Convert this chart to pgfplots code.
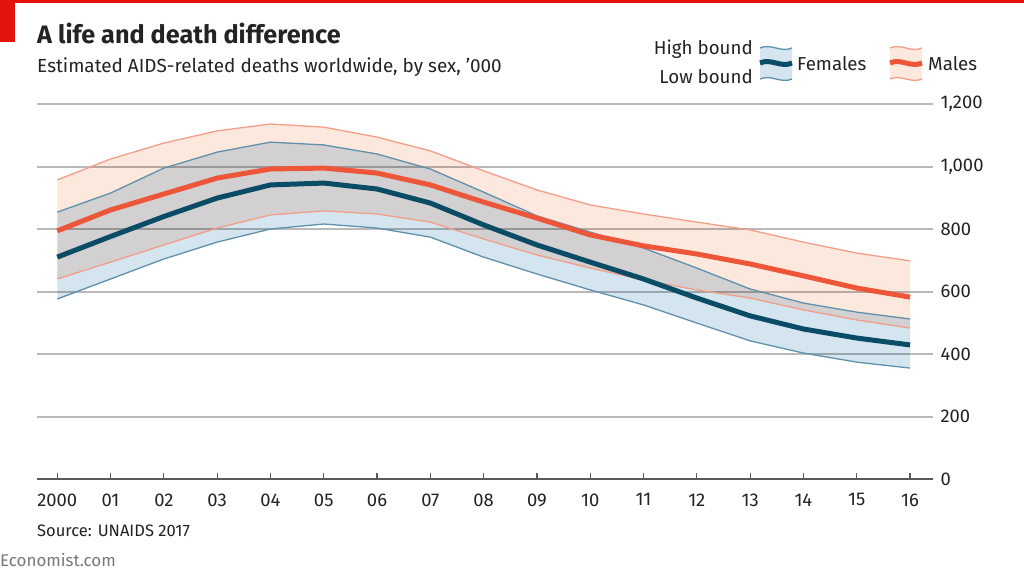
\documentclass[border=0pt]{standalone}
\usepackage{pgfplots}
\pgfplotsset{compat=1.18}
\usepackage{fontspec}
\setmainfont{Fira Sans}

\definecolor{fdark}{RGB}{10,75,102}
\definecolor{fedge}{RGB}{95,145,172}
\definecolor{ffill}{RGB}{212,229,239}
\definecolor{mdark}{RGB}{238,86,58}
\definecolor{medge}{RGB}{242,158,136}
\definecolor{mfill}{RGB}{253,232,222}
\definecolor{gridgray}{RGB}{185,185,185}
\definecolor{txt}{RGB}{35,35,35}
\definecolor{ecored}{RGB}{227,18,11}

\begin{document}
\begin{tikzpicture}
\path[use as bounding box, fill=white] (0,0) rectangle (1024bp,-576bp);
% red top rule and tab
\fill[ecored] (0,0) rectangle (1024bp,-2.5bp);
\fill[ecored] (0,0) rectangle (15bp,-42bp);

\node[anchor=base west, inner sep=0, text=txt, font=\fontsize{25.3}{28}\selectfont\bfseries] at (37bp,-43bp) {A life and death difference};
\node[anchor=base west, inner sep=0, text=txt, font=\fontsize{19}{22}\selectfont] at (37bp,-72bp) {Estimated AIDS-related deaths worldwide, by sex, ’000};

\begin{axis}[
  at={(37bp,-479bp)}, anchor=south west,
  scale only axis, width=896bp, height=375bp,
  xmin=1999.62, xmax=2016.43, ymin=0, ymax=1200,
  separate axis lines,
  axis x line*=bottom, axis y line*=right,
  y axis line style={draw=none},
  x axis line style={draw={rgb,255:red,90;green,90;blue,90}, line width=1.5bp},
  xtick={2000,...,2016},
  xticklabels={2000,01,02,03,04,05,06,07,08,09,10,11,12,13,14,15,16},
  xtick pos=bottom, tick align=inside,
  major tick length=6bp,
  x tick style={draw={rgb,255:red,90;green,90;blue,90}, line width=1.2bp},
  ytick={0,200,...,1200},
  y tick style={draw=none},
  ymajorgrids,
  grid style={gridgray, line width=2bp},
  yticklabel pos=right,
  yticklabel style={anchor=west, xshift=4bp},
  xticklabel style={yshift=-11bp},
  tick label style={text=txt, font=\fontsize{18.5}{21}\selectfont},
  /pgf/number format/assume math mode=true,
  /pgf/number format/1000 sep={,},
  clip=false,
]
% males band: high bound forward, low bound back
\addplot[fill=mfill, draw=none, blend mode=multiply] coordinates {
(2000,957)(2001,1024)(2002,1075)(2003,1114)(2004,1136)(2005,1126)(2006,1094)(2007,1050)(2008,986)
(2009,925)(2010,877)(2011,848)(2012,822)(2013,797)(2014,758)(2015,723)(2016,698)
(2016,483)(2015,509)(2014,541)(2013,579)(2012,605)(2011,637)(2010,675)(2009,717)
(2008,768)(2007,822)(2006,848)(2005,858)(2004,845)(2003,803)(2002,749)(2001,694)(2000,640)} -- cycle;
% females band
\addplot[fill=ffill, draw=none, blend mode=multiply] coordinates {
(2000,854)(2001,915)(2002,995)(2003,1046)(2004,1078)(2005,1069)(2006,1040)(2007,992)(2008,918)
(2009,842)(2010,790)(2011,739)(2012,675)(2013,608)(2014,563)(2015,534)(2016,512)
(2016,355)(2015,374)(2014,403)(2013,442)(2012,499)(2011,557)(2010,605)(2009,656)
(2008,710)(2007,774)(2006,803)(2005,816)(2004,800)(2003,758)(2002,704)(2001,640)(2000,576)} -- cycle;
% males bounds
\addplot[medge, line width=1.3bp] coordinates {
(2000,957)(2001,1024)(2002,1075)(2003,1114)(2004,1136)(2005,1126)(2006,1094)(2007,1050)(2008,986)
(2009,925)(2010,877)(2011,848)(2012,822)(2013,797)(2014,758)(2015,723)(2016,698)};
\addplot[medge, line width=1.3bp] coordinates {
(2000,640)(2001,694)(2002,749)(2003,803)(2004,845)(2005,858)(2006,848)(2007,822)(2008,768)
(2009,717)(2010,675)(2011,637)(2012,605)(2013,579)(2014,541)(2015,509)(2016,483)};
% females bounds
\addplot[fedge, line width=1.3bp] coordinates {
(2000,854)(2001,915)(2002,995)(2003,1046)(2004,1078)(2005,1069)(2006,1040)(2007,992)(2008,918)
(2009,842)(2010,790)(2011,739)(2012,675)(2013,608)(2014,563)(2015,534)(2016,512)};
\addplot[fedge, line width=1.3bp] coordinates {
(2000,576)(2001,640)(2002,704)(2003,758)(2004,800)(2005,816)(2006,803)(2007,774)(2008,710)
(2009,656)(2010,605)(2011,557)(2012,499)(2013,442)(2014,403)(2015,374)(2016,355)};
% central estimates
\addplot[mdark, line width=5bp] coordinates {
(2000,794)(2001,861)(2002,912)(2003,963)(2004,992)(2005,995)(2006,979)(2007,941)(2008,886)
(2009,835)(2010,781)(2011,746)(2012,720)(2013,688)(2014,650)(2015,611)(2016,582)};
\addplot[fdark, line width=5bp] coordinates {
(2000,710)(2001,776)(2002,840)(2003,899)(2004,941)(2005,947)(2006,928)(2007,883)(2008,813)
(2009,749)(2010,694)(2011,640)(2012,579)(2013,522)(2014,480)(2015,451)(2016,429)};
\end{axis}

% legend
\fill[ffill] (760bp,-48bp) .. controls (771bp,-43bp) and (781bp,-53bp) .. (792bp,-48bp)
  -- (792bp,-79bp) .. controls (781bp,-84bp) and (771bp,-74bp) .. (760bp,-79bp) -- cycle;
\draw[fedge, line width=1.3bp] (760bp,-48bp) .. controls (771bp,-43bp) and (781bp,-53bp) .. (792bp,-48bp);
\draw[fedge, line width=1.3bp] (760bp,-79bp) .. controls (771bp,-74bp) and (781bp,-84bp) .. (792bp,-79bp);
\draw[fdark, line width=5bp] (760bp,-63bp) .. controls (771bp,-58bp) and (781bp,-68bp) .. (792bp,-63bp);
\fill[mfill] (890bp,-48bp) .. controls (901bp,-43bp) and (911bp,-53bp) .. (922bp,-48bp)
  -- (922bp,-79bp) .. controls (911bp,-84bp) and (901bp,-74bp) .. (890bp,-79bp) -- cycle;
\draw[medge, line width=1.3bp] (890bp,-48bp) .. controls (901bp,-43bp) and (911bp,-53bp) .. (922bp,-48bp);
\draw[medge, line width=1.3bp] (890bp,-79bp) .. controls (901bp,-74bp) and (911bp,-84bp) .. (922bp,-79bp);
\draw[mdark, line width=5bp] (890bp,-63bp) .. controls (901bp,-58bp) and (911bp,-68bp) .. (922bp,-63bp);
\begin{scope}[every node/.style={inner sep=0, text=txt, font=\fontsize{18.8}{21}\selectfont}]
\node[anchor=base east] at (753bp,-54bp) {High bound};
\node[anchor=base east] at (753bp,-83bp) {Low bound};
\node[anchor=base west] at (797bp,-70bp) {Females};
\node[anchor=base west] at (928bp,-70bp) {Males};
\node[anchor=base west] at (37bp,-536bp) {\fontsize{16.6}{19}\selectfont Source: UNAIDS 2017};
\node[anchor=base west, text={rgb,255:red,120;green,120;blue,120}] at (0bp,-566bp) {\fontsize{17}{19}\selectfont Economist.com};
\end{scope}
\end{tikzpicture}
\end{document}
